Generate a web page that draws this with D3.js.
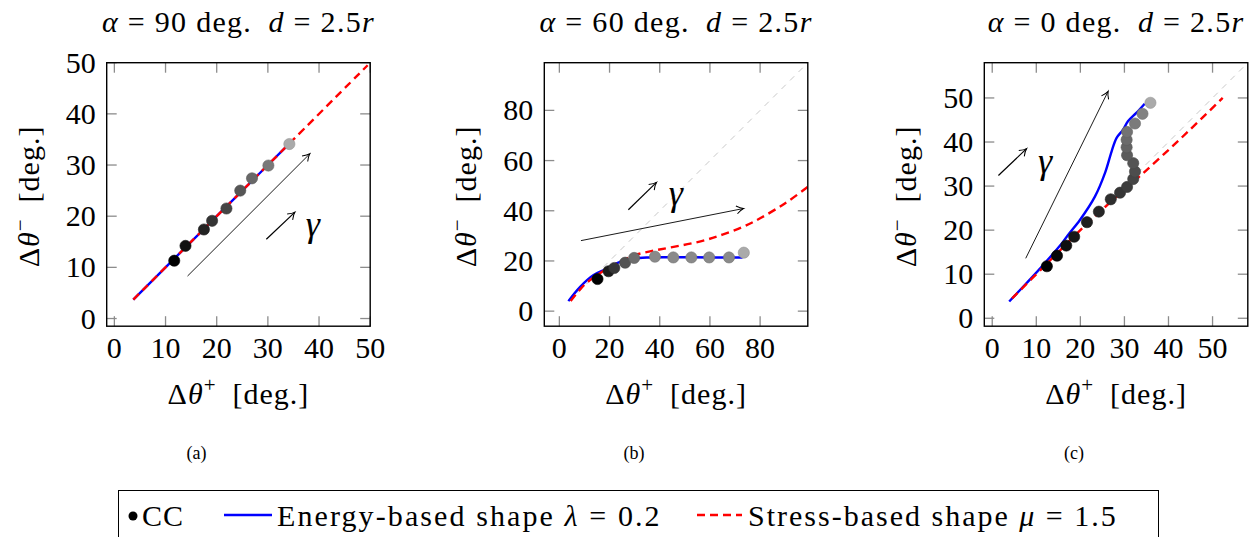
<!DOCTYPE html>
<html>
<head>
<meta charset="utf-8">
<script src="https://cdn.jsdelivr.net/npm/d3@7"></script>
<style>
  body { margin: 0; background: #fff; }
  svg { display: block; font-family: "Liberation Serif", "DejaVu Serif", serif; }
</style>
</head>
<body>
<div class="chart"></div>
<script>
// panel (a): alpha = 90
var ccA = [[11.7, 11.3], [13.9, 14.2], [17.5, 17.4], [19.1, 19.1], [21.9, 21.5],
  [24.6, 25.0], [26.9, 27.4], [30.1, 29.9], [34.2, 34.1]];
var energyA = [[3.7, 3.7], [12, 12], [20, 20], [28, 28], [34, 34]];
var stressA = [[3.7, 3.7], [20, 20], [35, 35], [49.5, 49.5]];

// panel (b): alpha = 60
var ccB = [[15.2, 12.8], [19.6, 15.9], [21.9, 17.2], [26.2, 19.3], [29.8, 21.2],
  [38.1, 21.7], [45.4, 21.4], [52.6, 21.4], [59.7, 21.4], [67.6, 21.4], [73.5, 23.3]];
var energyB = [[3.6, 4.0], [8.2, 9.6], [13.5, 14.3], [18.9, 16.9], [24.2, 19.6],
  [29.5, 20.9], [34.8, 21.4], [45, 21.5], [60, 21.4], [73, 21.4]];
var stressB = [[4.5, 4.0], [10, 10.5], [15, 14.3], [20, 17.5], [25, 20.0], [30, 22.3],
  [37, 24.0], [45, 25.5], [57, 28.0], [65, 30.5], [73, 33.5], [80, 37.0], [90, 43.0], [99, 49.5]];

// panel (c): alpha = 0
var ccC = [[12.4, 11.8], [14.7, 14.2], [16.8, 16.5], [18.6, 18.5], [21.5, 21.8],
  [24.2, 24.2], [26.9, 27.0], [29.0, 28.5], [30.6, 29.8], [32.0, 31.6], [32.4, 33.3],
  [32.0, 35.2], [30.6, 37.0], [30.5, 38.8], [30.5, 40.5], [30.6, 42.3], [32.4, 44.2],
  [34.1, 46.4], [35.9, 48.9]];
var energyC = [[3.85, 3.8], [7.8, 8.0], [11.2, 11.7], [15.4, 16.5], [17.2, 18.9],
  [19.9, 22.3], [23.3, 27.6], [25.6, 33.0], [27.1, 37.9], [28.2, 40.9], [29.7, 42.8],
  [30.8, 44.7], [32.7, 46.6], [34.6, 48.7]];
var stressC = [[4.5, 4.5], [12, 12], [20, 20], [27, 26.5], [34, 32.7], [43, 41], [52.3, 50]];

var ticksA = [0, 10, 20, 30, 40, 50];
var ticksB = [0, 20, 40, 60, 80];
var ticksC = [0, 10, 20, 30, 40, 50];

var captions = ['(a)', '(b)', '(c)'];

// gamma arrows: [long arrow start, end], [small arrow start, end], gamma label
var arrowsA = [[[14.3, 8.3], [38.2, 32.2]], [[29.7, 15.5], [35.3, 20.8]], [38.8, 17.7]];
var arrowsB = [[[8.6, 28.1], [73.4, 40.9]], [[27.5, 40.4], [38.7, 51.3]], [46.4, 45.3]];
var arrowsC = [[[7.6, 13.6], [26.3, 51.5]], [[1.4, 32.4], [7.8, 38.5]], [12.0, 34.8]];

var panels = [
  { left: 106.7, domain: [-1.5, 50], ticks: ticksA, cc: ccA, energy: energyA, stress: stressA,
    arrows: arrowsA, alpha: '90', diag: false, shadeEnd: 8, caption: 0 },
  { left: 544.3, domain: [-6, 99], ticks: ticksB, cc: ccB, energy: energyB, stress: stressB,
    arrows: arrowsB, alpha: '60', diag: true, shadeEnd: 5, caption: 1 },
  { left: 984.3, domain: [-1.8, 58], ticks: ticksC, cc: ccC, energy: energyC, stress: stressC,
    arrows: arrowsC, alpha: '0', diag: true, shadeEnd: 18, caption: 2 }
];

var plotTop = 62.7, size = 263.5;
var fontSize = 30;

var svg = d3.select('.chart')
  .append('svg')
  .attr('width', 1260)
  .attr('height', 537);

var defs = svg.append('defs');
defs.append('marker')
  .attr('id', 'head')
  .attr('viewBox', '-10 -6 12 12')
  .attr('markerWidth', 12)
  .attr('markerHeight', 12)
  .attr('markerUnits', 'userSpaceOnUse')
  .attr('orient', 'auto')
  .append('path')
  .attr('d', 'M-7,-4 Q-3,-0.8 0,0 Q-3,0.8 -7,4')
  .style('fill', 'none')
  .style('stroke', 'black')
  .style('stroke-width', 1);

panels.forEach(function(p, k) {
  var x = d3.scaleLinear().domain(p.domain).range([p.left, p.left + size]);
  var y = d3.scaleLinear().domain(p.domain).range([plotTop + size, plotTop]);
  var g = svg.append('g');

  var clipId = 'clip' + k;
  defs.append('clipPath').attr('id', clipId)
    .append('rect')
    .attr('x', p.left).attr('y', plotTop).attr('width', size).attr('height', size);

  // ticks (inside, all four sides)
  var tickLen = 10;
  var tk = g.append('g').style('stroke', '#8c8c8c').style('stroke-width', 1.3);
  p.ticks.forEach(function(t) {
    tk.append('line').attr('x1', x(t)).attr('x2', x(t)).attr('y1', plotTop + size).attr('y2', plotTop + size - tickLen);
    tk.append('line').attr('x1', x(t)).attr('x2', x(t)).attr('y1', plotTop).attr('y2', plotTop + tickLen);
    tk.append('line').attr('y1', y(t)).attr('y2', y(t)).attr('x1', p.left).attr('x2', p.left + tickLen);
    tk.append('line').attr('y1', y(t)).attr('y2', y(t)).attr('x1', p.left + size).attr('x2', p.left + size - tickLen);
  });

  // tick labels
  g.selectAll('.xl').data(p.ticks).enter().append('text')
    .attr('x', d => x(d)).attr('y', plotTop + size + 32)
    .style('text-anchor', 'middle').style('font-size', fontSize + 'px')
    .text(d => d);
  g.selectAll('.yl').data(p.ticks).enter().append('text')
    .attr('x', p.left - 11).attr('y', d => y(d) + 10)
    .style('text-anchor', 'end').style('font-size', fontSize + 'px')
    .text(d => d);

  var plot = g.append('g').attr('clip-path', 'url(#' + clipId + ')');
  var line = d3.line().x(d => x(d[0])).y(d => y(d[1])).curve(d3.curveCatmullRom.alpha(0.5));

  if (p.diag) {
    plot.append('path')
      .attr('d', d3.line().x(d => x(d)).y(d => y(d))([4, p.domain[1]]))
      .style('stroke', '#c8c8c8').style('stroke-width', 1)
      .style('stroke-dasharray', '6,6').style('fill', 'none');
  }

  plot.append('path').attr('d', line(p.energy))
    .style('stroke', '#0000ff').style('stroke-width', 2.4).style('fill', 'none');
  plot.append('path').attr('d', line(p.stress))
    .style('stroke', '#ff0000').style('stroke-width', 2.4)
    .style('stroke-dasharray', '8,5').style('fill', 'none');

  var shade = d3.scaleLinear().domain([0, p.shadeEnd]).range(['#000000', '#8a8a8a']).clamp(true);
  var n = p.cc.length;
  plot.selectAll('.cc').data(p.cc).enter().append('circle')
    .attr('cx', d => x(d[0])).attr('cy', d => y(d[1])).attr('r', 5.6)
    .style('fill', (d, i) => i === n - 1 ? '#aaaaaa' : shade(i))
    .style('stroke', (d, i) => d3.color(i === n - 1 ? '#aaaaaa' : shade(i)).darker(0.4))
    .style('stroke-width', 0.6);

  // gamma arrows
  var a = p.arrows;
  [a[0], a[1]].forEach(function(seg, j) {
    plot.append('line')
      .attr('x1', x(seg[0][0])).attr('y1', y(seg[0][1]))
      .attr('x2', x(seg[1][0])).attr('y2', y(seg[1][1]))
      .style('stroke', 'black').style('stroke-width', j === 0 ? 0.9 : 1.2)
      .attr('marker-end', 'url(#head)');
  });
  g.append('text')
    .attr('x', x(a[2][0])).attr('y', y(a[2][1]) + 8)
    .style('text-anchor', 'middle').style('font-size', '36px').style('font-style', 'italic')
    .text('γ');

  // frame
  g.append('rect')
    .attr('x', p.left).attr('y', plotTop).attr('width', size).attr('height', size)
    .style('fill', 'none').style('stroke', 'black').style('stroke-width', 1.4);

  var cx = p.left + size / 2;

  // title
  var tt = g.append('text').attr('x', cx).attr('y', 32)
    .style('text-anchor', 'middle').style('font-size', fontSize + 'px')
    .style('letter-spacing', '1.3px');
  tt.append('tspan').style('font-style', 'italic').text('α');
  tt.append('tspan').text(' = ' + p.alpha + ' deg.\u2002');
  tt.append('tspan').style('font-style', 'italic').text('d');
  tt.append('tspan').text(' = 2.5');
  tt.append('tspan').style('font-style', 'italic').text('r');

  // x label
  var xl = g.append('text').attr('x', cx).attr('y', 404)
    .style('text-anchor', 'middle').style('font-size', fontSize + 'px')
    .style('letter-spacing', '1px');
  xl.append('tspan').text('Δ');
  xl.append('tspan').style('font-style', 'italic').text('θ');
  xl.append('tspan').attr('dy', -12).style('font-size', '21px').text('+');
  xl.append('tspan').attr('dy', 12).text('\u2002[deg.]');

  // y label
  var yl = g.append('text')
    .attr('transform', 'translate(' + (p.left - 68) + ',' + (plotTop + size / 2 + 2) + ') rotate(-90)')
    .style('text-anchor', 'middle').style('font-size', fontSize + 'px')
    .style('letter-spacing', '1px');
  yl.append('tspan').text('Δ');
  yl.append('tspan').style('font-style', 'italic').text('θ');
  yl.append('tspan').attr('dy', -12).style('font-size', '21px').text('−');
  yl.append('tspan').attr('dy', 12).text('\u2002[deg.]');

  // caption
  g.append('text').attr('x', cx - 42).attr('y', 459)
    .style('text-anchor', 'middle').style('font-size', '18px')
    .text(captions[p.caption]);
});

// legend
var lg = svg.append('g');
lg.append('rect').attr('x', 118.5).attr('y', 490.5).attr('width', 1040).attr('height', 60)
  .style('fill', 'none').style('stroke', 'black').style('stroke-width', 1);
lg.append('circle').attr('cx', 133).attr('cy', 516).attr('r', 4.5).style('fill', 'black');
lg.append('text').attr('x', 142).attr('y', 526).style('font-size', fontSize + 'px')
  .style('letter-spacing', '1px').text('CC');
lg.append('line').attr('x1', 224).attr('x2', 272).attr('y1', 515).attr('y2', 515)
  .style('stroke', '#0000ff').style('stroke-width', 2.4);
var t1 = lg.append('text').attr('x', 277).attr('y', 526).style('font-size', fontSize + 'px')
  .style('letter-spacing', '2.1px');
t1.append('tspan').text('Energy-based shape ');
t1.append('tspan').style('font-style', 'italic').text('λ');
t1.append('tspan').text(' = 0.2');
lg.append('line').attr('x1', 697).attr('x2', 742).attr('y1', 515).attr('y2', 515)
  .style('stroke', '#ff0000').style('stroke-width', 2.4).style('stroke-dasharray', '8,5');
var t2 = lg.append('text').attr('x', 748).attr('y', 526).style('font-size', fontSize + 'px')
  .style('letter-spacing', '2px');
t2.append('tspan').text('Stress-based shape ');
t2.append('tspan').style('font-style', 'italic').text('μ');
t2.append('tspan').text(' = 1.5');
</script>
</body>
</html>
